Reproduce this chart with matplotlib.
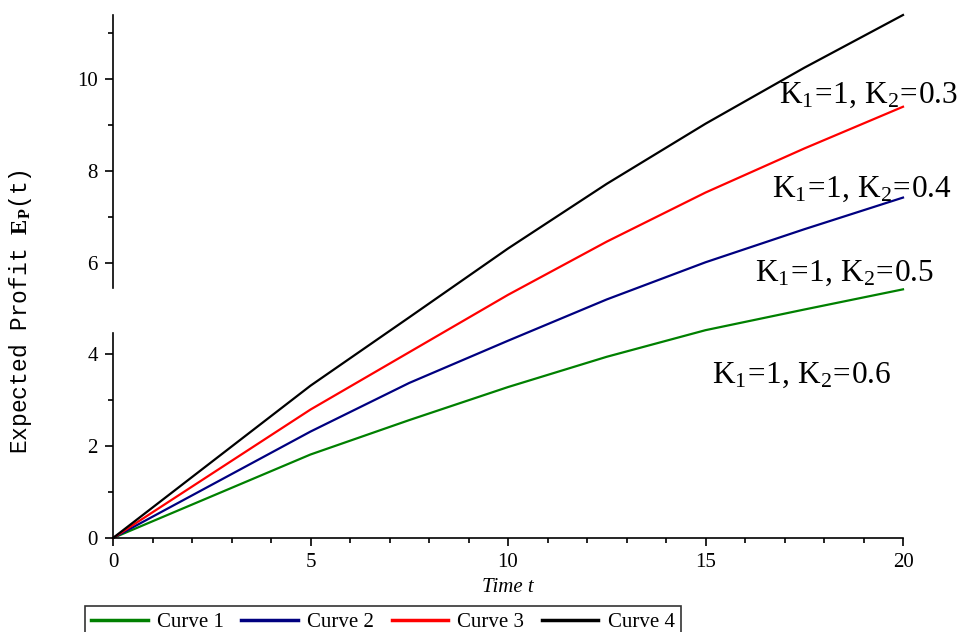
#!/usr/bin/env python3

import matplotlib
matplotlib.use("Agg")
import matplotlib.pyplot as plt

# values
t = [0, 2.5, 5, 7.5, 10, 12.5, 15, 17.5, 20]
curve1 = [0, 0.91, 1.82, 2.57, 3.29, 3.95, 4.53, 4.98, 5.42]    # K2=0.6
curve2 = [0, 1.16, 2.32, 3.38, 4.30, 5.20, 6.01, 6.73, 7.42]    # K2=0.5
curve3 = [0, 1.40, 2.80, 4.05, 5.30, 6.46, 7.53, 8.49, 9.40]    # K2=0.4
curve4 = [0, 1.66, 3.32, 4.81, 6.31, 7.72, 9.03, 10.25, 11.40]  # K2=0.3

labels = ["Curve 1", "Curve 2", "Curve 3", "Curve 4"]
colors = ["#008000", "#000080", "#ff0000", "#000000"]
notes = ["0.6", "0.5", "0.4", "0.3"]
note_x = [15.16, 16.25, 16.68, 16.86]
note_y = [3.38, 5.60, 7.43, 9.48]

plt.rcParams["font.family"] = ["Liberation Serif", "DejaVu Serif"]
plt.rcParams["mathtext.fontset"] = "custom"
plt.rcParams["mathtext.rm"] = "Liberation Serif"
plt.rcParams["mathtext.bf"] = "Liberation Serif:bold"
plt.rcParams["mathtext.it"] = "Liberation Serif:italic"


def main():
    fig = plt.figure(figsize=(9.61, 6.32), dpi=100)
    ax = fig.add_axes([113 / 961, 1 - 538 / 632, 790 / 961, 523 / 632])

    for ys, lab, c in zip([curve1, curve2, curve3, curve4], labels, colors):
        ax.plot(t, ys, color=c, lw=1.6, label=lab, clip_on=False)

    ax.set_xlim(0, 20)
    ax.set_ylim(0, 11.4)

    # only left and bottom axis, the left one has a small gap in it
    for s in ["top", "right", "left"]:
        ax.spines[s].set_visible(False)
    ax.spines["bottom"].set_linewidth(1.2)
    ax.axvline(0, ymin=0, ymax=4.47 / 11.4, color="black", lw=1.2, clip_on=False)
    ax.axvline(0, ymin=5.45 / 11.4, ymax=1, color="black", lw=1.2, clip_on=False)

    ax.set_xticks([0, 5, 10, 15, 20])
    ax.set_xticks([1, 2, 3, 4, 6, 7, 8, 9, 11, 12, 13, 14, 16, 17, 18, 19], minor=True)
    ax.set_yticks([0, 2, 4, 6, 8, 10])
    ax.set_yticks([1, 3, 7, 9, 11], minor=True)
    ax.tick_params(which="major", direction="out", length=6, width=1.2, labelsize=15, pad=5)
    ax.tick_params(which="minor", direction="out", length=3.5, width=1.2)

    ax.set_xlabel("Time t", fontsize=15, style="italic", labelpad=4)
    fig.text(21 / 961, 1 - 312 / 632, r"Expected Profit $\mathbf{E}_{\mathbf{P}}$(t)",
             rotation=90, ha="center", va="center", fontsize=16.5,
             family=["Liberation Mono", "DejaVu Sans Mono"])

    for x, y, n in zip(note_x, note_y, notes):
        ax.text(x, y, r"$\mathrm{K_1\!=\!1,\,K_2\!=\!" + n + "}$", fontsize=22.5,
                va="baseline", ha="left", clip_on=False)

    leg = fig.legend(loc="upper left", bbox_to_anchor=(85 / 961, 26 / 632), ncol=4,
                     fontsize=15, frameon=True, fancybox=False, edgecolor="black",
                     handlelength=2.7, handletextpad=0.45, columnspacing=0.85,
                     borderaxespad=0, borderpad=0.3)
    leg.get_frame().set_linewidth(1.2)
    for line in leg.get_lines():
        line.set_linewidth(2.5)

    fig.savefig("out.png", dpi=100)


if __name__ == "__main__":
    main()
